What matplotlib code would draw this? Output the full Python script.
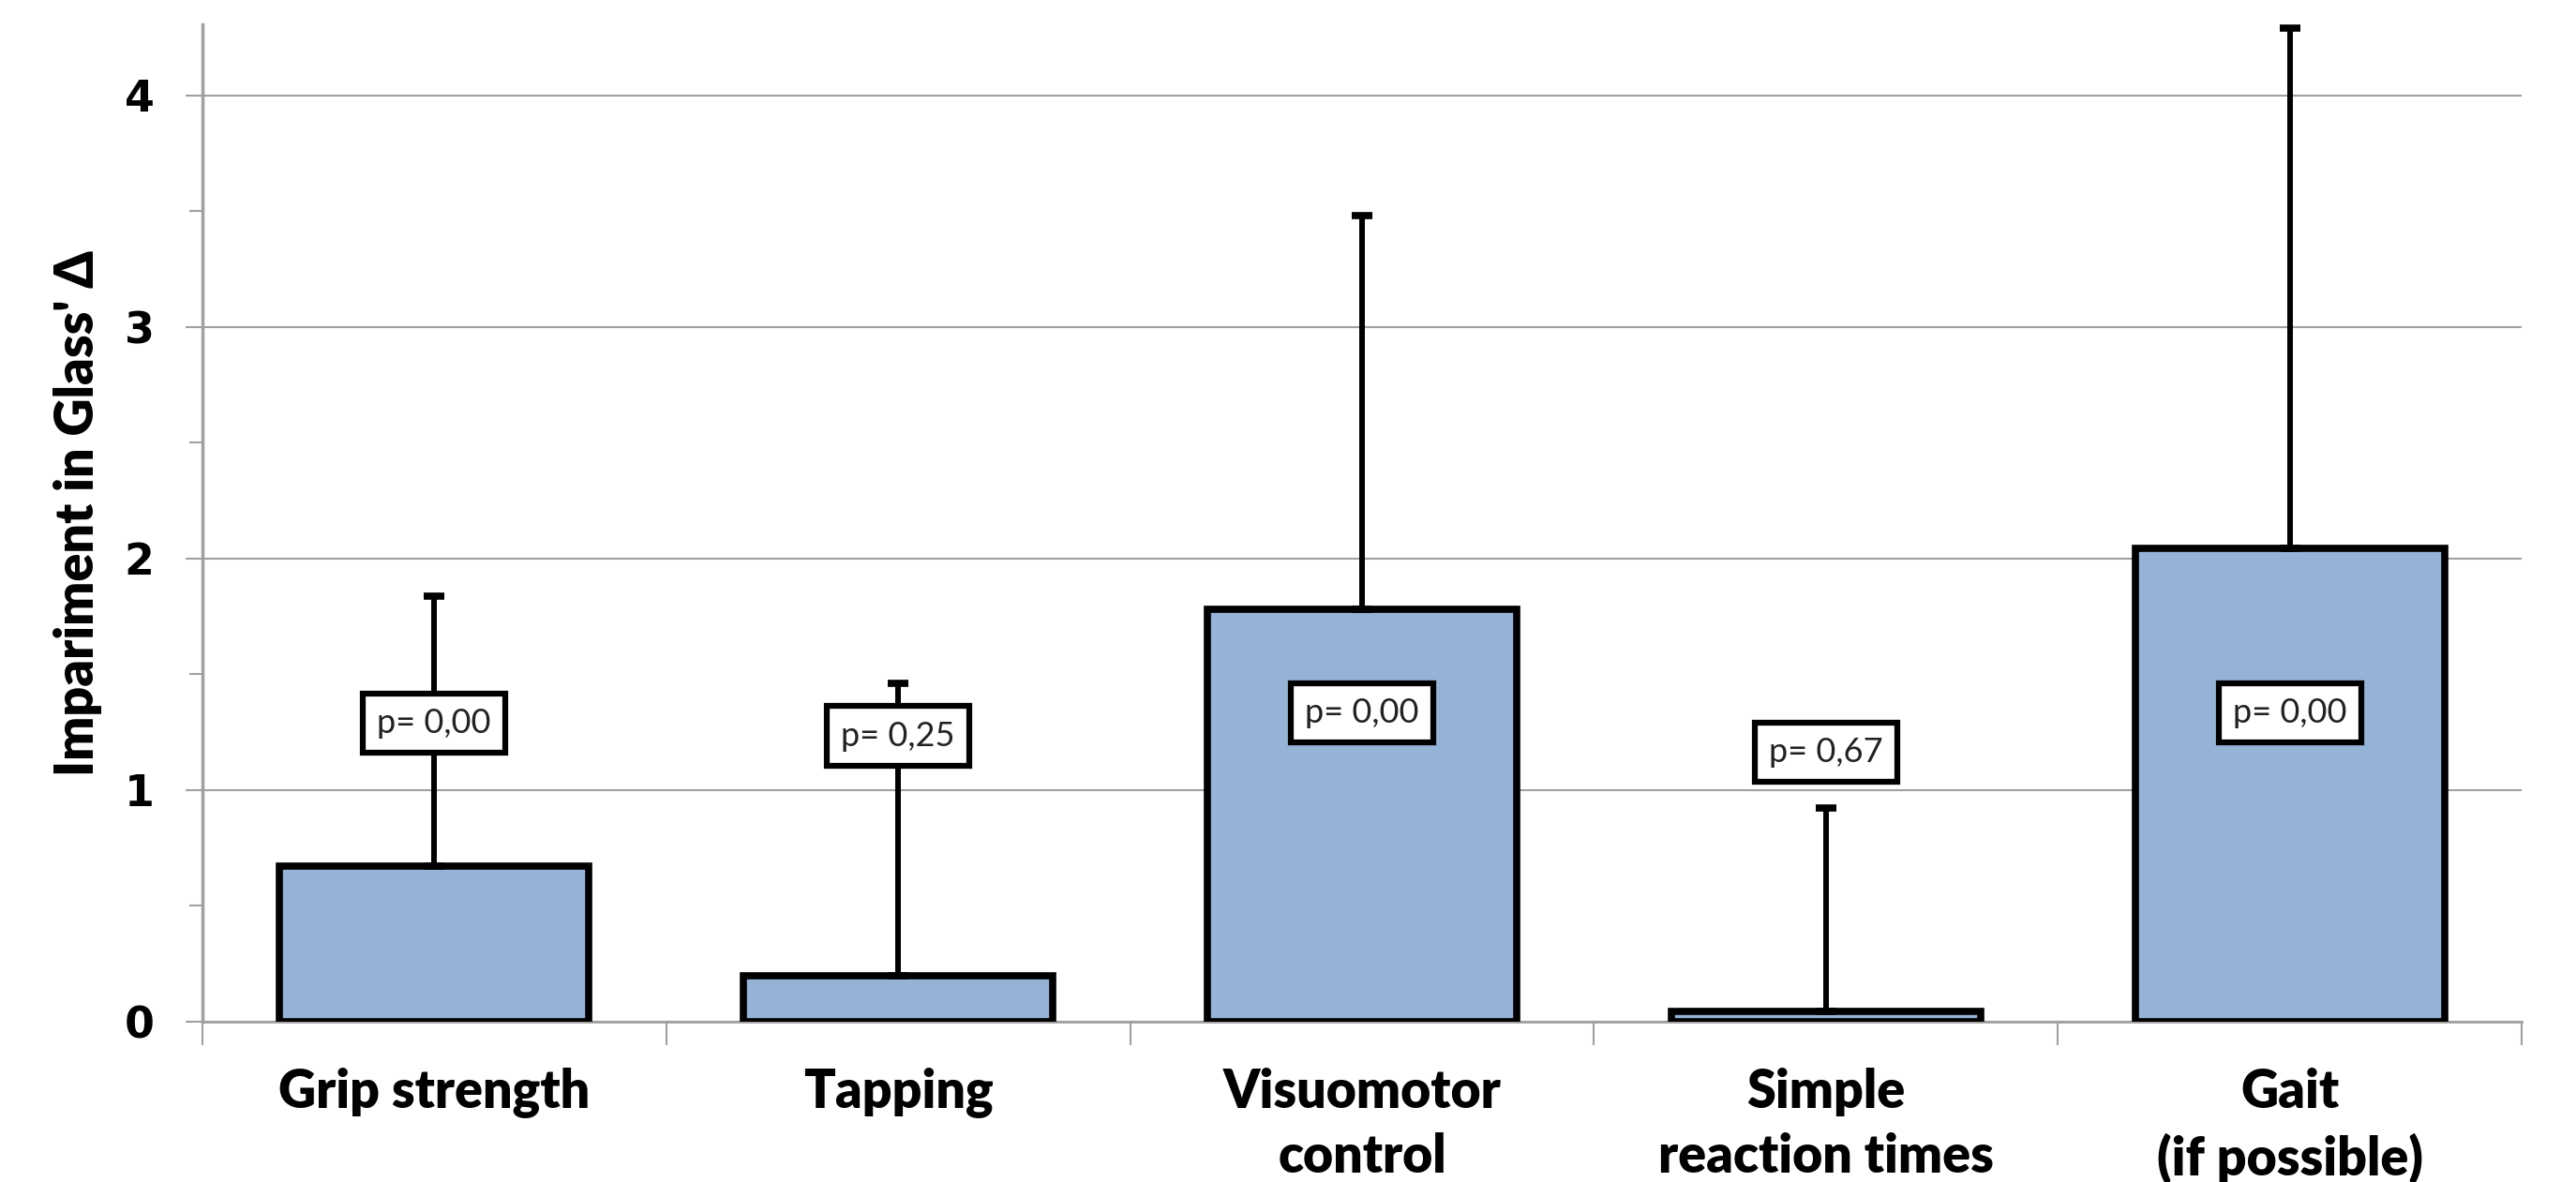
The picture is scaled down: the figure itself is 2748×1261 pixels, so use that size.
import matplotlib
matplotlib.use("Agg")
import matplotlib.pyplot as plt
from matplotlib.ticker import MultipleLocator, FixedLocator, NullFormatter
import numpy as np

# --- DATA ---
categories = ["Grip strength", "Tapping", "Visuomotor\ncontrol",
              "Simple\nreaction times", "Gait\n(if possible)"]
means = [0.674, 0.199, 1.780, 0.043, 2.043]
upper = [1.837, 1.461, 3.480, 0.922, 4.292]   # top of error bar
p_labels = ["p= 0,00", "p= 0,25", "p= 0,00", "p= 0,67", "p= 0,00"]
p_y = [1.29, 1.234, 1.333, 1.163, 1.333]      # vertical position of p boxes

narrow = ["Lato", "DejaVu Sans"]

fig = plt.figure(figsize=(27.48, 12.61), dpi=100)
ax = fig.add_axes([0.0785, 0.1356, 0.9005, 0.8434])

x = np.arange(len(categories))
yerr = [np.zeros(len(means)), np.array(upper) - np.array(means)]

ax.bar(x, means, width=0.666, color="#95B3D7", edgecolor="black",
       linewidth=5.5, zorder=3)
ax.errorbar(x, means, yerr=yerr, fmt="none", ecolor="black",
            elinewidth=4.3, capsize=8, capthick=5.5, zorder=4)

# --- p-value boxes ---
for xi, yi, lab in zip(x, p_y, p_labels):
    ax.text(xi, yi, lab, ha="center", va="center", fontsize=26,
            family=narrow, color="#222222", zorder=6,
            bbox=dict(boxstyle="square,pad=0.42", facecolor="white",
                      edgecolor="black", linewidth=4.5))

# --- AXES ---
ax.set_xlim(-0.5, 4.5)
ax.set_ylim(0, 4.305)

ax.yaxis.set_major_locator(MultipleLocator(1))
ax.yaxis.set_minor_locator(MultipleLocator(0.5))
ax.grid(axis="y", which="major", color="#A0A0A0", linewidth=1.5, zorder=0)
ax.tick_params(axis="y", which="major", length=13, width=1.5, color="#A0A0A0",
               labelsize=33, pad=24)
ax.tick_params(axis="y", which="minor", length=10, width=1.5, color="#A0A0A0")
for t in ax.get_yticklabels():
    t.set_fontweight("bold")

# separators between categories as major x ticks, names as minor ticks
ax.xaxis.set_major_locator(FixedLocator(np.arange(-0.5, 5.0, 1.0)))
ax.xaxis.set_major_formatter(NullFormatter())
ax.xaxis.set_minor_locator(FixedLocator(x))
ax.set_xticklabels(categories, minor=True, fontsize=40, fontweight="heavy",
                   family=narrow, linespacing=1.4)
ax.tick_params(axis="x", which="major", length=18, width=1.5, color="#A0A0A0")
ax.tick_params(axis="x", which="minor", length=0, pad=35)

for side in ["top", "right"]:
    ax.spines[side].set_visible(False)
ax.spines["left"].set_color("#A0A0A0")
ax.spines["left"].set_linewidth(2.5)
ax.spines["bottom"].set_color("#A0A0A0")
ax.spines["bottom"].set_linewidth(2)

ax.set_ylabel("Impariment in Glass' Δ", fontsize=40, fontweight="heavy",
              family=narrow)
ax.yaxis.set_label_coords(-0.043, 0.51)

fig.savefig("out.png", dpi=100)
